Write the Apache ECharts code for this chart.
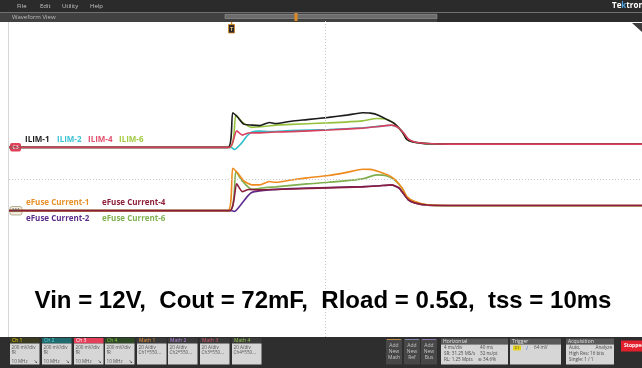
<!DOCTYPE html>
<html>
<head>
<meta charset="utf-8">
<script src="https://cdn.jsdelivr.net/npm/echarts/dist/echarts.min.js"></script>
<style>
  html, body { margin: 0; padding: 0; background: #ffffff; }
  #scope { width: 642px; height: 368px; }
</style>
</head>
<body>
<div id="scope"></div>
<script>
// Horizontal settings: 4 ms/div, 10 divisions, trigger at 34.6 % of record
const timeWindowMs = [-13.84, 26.16];
const timeCenterMs = 6.16;

// Vertical settings: ILIM channels 200 mV/div (offset +1 div), eFuse math 20 A/div (offset -1 div)
const ilimRangeMv = [-1200, 800];
const ilimCenterMv = -200;
const currentRangeA = [-80, 120];

// ILIM pin voltages [ms, mV]
const ilim1 = [[-13.84,0],[0,0],[0.3,219],[0.6,192],[1.0,147],[1.5,141],[2.0,138],[2.6,158],[3.0,151],[4.0,166],[5.0,176],[6.35,190],[7.5,204],[8.5,219],[9.0,217],[9.5,204],[10.1,173],[10.5,152],[11.0,99],[11.3,50],[11.7,34],[12.2,27],[12.8,23],[14,21],[26.16,21]];
const ilim2 = [[-13.84,0],[0.2,0],[0.4,-13],[0.8,21],[1.2,72],[1.5,97],[2.0,103],[2.6,100],[4.0,106],[6.35,113],[8.5,124],[9.5,133],[10.33,140],[10.8,121],[11.1,90],[11.4,51],[11.8,33],[12.6,24],[14,21],[26.16,21]];
const ilim4 = [[-13.84,0],[0.1,0],[0.55,105],[0.9,78],[1.3,91],[2.0,92],[3.0,97],[4.0,100],[6.35,110],[8.5,122],[9.5,132],[10.33,141],[10.8,122],[11.1,91],[11.4,52],[11.8,34],[12.6,25],[14,21],[26.16,21]];
const ilim6 = [[-13.84,0],[0.1,0],[0.5,204],[0.9,160],[1.5,127],[2.5,135],[3.0,141],[5.0,150],[6.35,155],[8.5,168],[9.4,183],[10.0,178],[10.5,152],[11.0,99],[11.3,50],[11.7,34],[12.2,27],[12.8,23],[14,21],[26.16,21]];

// eFuse currents [ms, A]
const efuse1 = [[-13.84,0],[0,0],[0.3,26.8],[0.6,23.9],[1.0,18.8],[1.5,16.3],[2.0,16.3],[2.6,18.4],[3.0,17.9],[4.0,19.4],[5.0,20.7],[6.35,22.2],[7.5,24.2],[8.5,26.2],[9.0,26.1],[9.5,24.8],[10.1,22.6],[10.5,20.1],[11.0,14.4],[11.3,8.9],[11.8,5.7],[12.6,3.6],[14,3.2],[26.16,3.2]];
const efuse2 = [[-13.84,0],[0.2,0],[0.4,-0.5],[0.8,3.6],[1.2,8.7],[1.5,11.5],[2.0,12.5],[2.6,13.1],[4.0,13.9],[6.35,14.6],[8.5,15.2],[9.5,15.7],[10.33,16.2],[10.8,14.3],[11.1,10.5],[11.4,6.7],[11.8,4.8],[12.6,3.4],[14,3.2],[26.16,3.2]];
const efuse4 = [[-13.84,0],[0.1,0],[0.55,16.9],[0.9,12.0],[1.3,13.4],[2.0,13.1],[3.0,13.4],[4.0,13.7],[6.35,14.4],[8.5,15.0],[9.5,15.6],[10.33,16.3],[10.8,14.4],[11.1,10.6],[11.4,6.8],[11.8,4.9],[12.6,3.5],[14,3.2],[26.16,3.2]];
const efuse6 = [[-13.84,0],[0.1,0],[0.5,24.7],[0.9,18.8],[1.5,13.5],[2.5,14.7],[3.0,15.0],[5.0,16.9],[6.35,17.9],[8.5,20.1],[9.4,22.6],[10.0,22.1],[10.5,19.6],[11.0,14.2],[11.3,8.8],[11.8,5.6],[12.6,3.5],[14,3.1],[26.16,3.1]];

const ilimNames = ['ILIM-2', 'ILIM-6', 'ILIM-1', 'ILIM-4'];
const efuseNames = ['eFuse Current-2', 'eFuse Current-6', 'eFuse Current-1', 'eFuse Current-4'];
const conditionText = 'Vin = 12V,  Cout = 72mF,  Rload = 0.5\u03A9,  tss = 10ms';

const colors = {
  ilim1: '#1c1c1c', ilim2: '#2fbccb', ilim4: '#d9405e', ilim6: '#95c23d',
  efuse1: '#ef8b1e', efuse2: '#5f2c8e', efuse4: '#8a1d3c', efuse6: '#7fae4c'
};

const chart = echarts.init(document.getElementById('scope'), null, { renderer: 'canvas' });

function trace(name, data, color, axis) {
  return {
    name: name, type: 'line', data: data, yAxisIndex: axis,
    showSymbol: false, smooth: 0.2, silent: true,
    lineStyle: { color: color, width: 1.6 }, itemStyle: { color: color }
  };
}

const uiFont = '"Open Sans", "DejaVu Sans", sans-serif';
const g = [];
function rect(x, y, w, h, fill, extra) {
  g.push(Object.assign({ type: 'rect', shape: { x: x, y: y, width: w, height: h }, style: { fill: fill }, silent: true }, extra || {}));
}
function txt(x, y, text, fill, size, opts) {
  opts = opts || {};
  g.push({ type: 'text', x: x, y: y, silent: true, z: 10,
    style: { text: text, fill: fill, fontSize: size, fontFamily: opts.family || uiFont,
      fontWeight: opts.weight || 'normal', textAlign: opts.align || 'left', textVerticalAlign: 'middle' } });
}

// menu bar
rect(0, 0, 642, 12, '#2b2b2b');
txt(17, 6.5, 'File', '#c4c4c4', 6);
txt(40, 6.5, 'Edit', '#c4c4c4', 6);
txt(62, 6.5, 'Utility', '#c4c4c4', 6);
txt(90, 6.5, 'Help', '#c4c4c4', 6);
g.push({ type: 'text', x: 612, y: 6, silent: true, z: 10,
  style: { text: '{a|Te}{b|k}{a|tronix}', textVerticalAlign: 'middle',
    rich: { a: { fill: '#ffffff', fontSize: 8, fontWeight: 'bold', fontFamily: uiFont },
            b: { fill: '#4fa3e0', fontSize: 8, fontWeight: 'bold', fontFamily: uiFont } } } });

// waveform view title bar with record overview
rect(0, 12, 642, 10, '#414141');
rect(0, 12, 642, 1, '#707070');
rect(437, 13, 205, 9, '#2d2d2d');
txt(12, 17.5, 'Waveform View', '#bdbdbd', 6);
rect(225, 14.5, 212, 4, '#6c6c6c', { style: { fill: '#6c6c6c', stroke: '#9a9a9a', lineWidth: 0.6 } });
rect(294.5, 13, 3, 8, '#e08a20');

// plot frame
rect(8, 22, 1, 315, '#d6d6d6');
// trigger position marker
rect(231, 22, 1.2, 3, '#e08a20');
rect(228.5, 24.5, 6, 8.5, '#2a2a2a', { style: { fill: '#2a2a2a', stroke: '#e08a20', lineWidth: 0.8 } });
txt(231.5, 29, 'T', '#f0c080', 5.5, { align: 'center', weight: 'bold' });
g.push({ type: 'polygon', silent: true, shape: { points: [[632, 23], [642, 23], [642, 32]] }, style: { fill: '#3d3d3d' } });

// channel reference markers
rect(10, 143, 11, 8.5, '#e0405a', { shape: { x: 10, y: 143, width: 11, height: 8.5, r: 2 } });
txt(15.5, 147.3, 'C3', '#ffffff', 5, { align: 'center' });
rect(10, 206.5, 12, 8.5, '#f2ecd8', { shape: { x: 10, y: 206.5, width: 12, height: 8.5, r: 2 }, style: { fill: '#f2ecd8', stroke: '#9a9478', lineWidth: 0.7 } });
txt(16, 210.8, 'M4', '#555555', 5, { align: 'center' });

// trace labels
const labelFont = '"Open Sans", "DejaVu Sans", sans-serif';
txt(25, 140, 'ILIM-1', '#1c1c1c', 8, { weight: 'bold', family: labelFont });
txt(57, 140, 'ILIM-2', '#3cc3d2', 8, { weight: 'bold', family: labelFont });
txt(88, 140, 'ILIM-4', '#e2506c', 8, { weight: 'bold', family: labelFont });
txt(119, 140, 'ILIM-6', '#a2cc44', 8, { weight: 'bold', family: labelFont });
txt(26, 203, 'eFuse Current-1', '#e8902a', 8, { weight: 'bold', family: labelFont });
txt(102, 203, 'eFuse Current-4', '#8e1f38', 8, { weight: 'bold', family: labelFont });
txt(26, 219, 'eFuse Current-2', '#5c2d8c', 8, { weight: 'bold', family: labelFont });
txt(102, 219, 'eFuse Current-6', '#80b252', 8, { weight: 'bold', family: labelFont });

// test conditions
txt(323, 301.5, conditionText, '#000000', 24, { align: 'center', weight: 'bold', family: '"Liberation Sans", Arial, sans-serif' });

// bottom status bar
rect(0, 337, 642, 31, '#2e2e2e');
const badgeXs = [10, 42, 74, 105, 137, 168, 200, 232];
const badgeW = 29.5;
const badgeTitles = ['Ch 1', 'Ch 2', 'Ch 3', 'Ch 4', 'Math 1', 'Math 2', 'Math 3', 'Math 4'];
const badgeHead = ['#3b3a22', '#1d6b6e', '#e4405a', '#2e4a24', '#3a3a3a', '#3a3a3a', '#3a3a3a', '#3a3a3a'];
const badgeInk = ['#e8d200', '#5fd4dc', '#ffffff', '#86c64a', '#ee9130', '#b487e6', '#d8566c', '#94c848'];
const badgeLine1 = ['200 mV/div', '200 mV/div', '200 mV/div', '200 mV/div', '20 A/div', '20 A/div', '20 A/div', '20 A/div'];
const badgeLine2 = ['fR', 'fR', 'fR', 'fR', 'Ch1*550...', 'Ch2*550...', 'Ch3*550...', 'Ch4*550...'];
badgeXs.forEach(function (x, i) {
  rect(x, 338, badgeW, 5.5, badgeHead[i]);
  rect(x, 343.5, badgeW, 21, '#d6d6d6');
  txt(x + 2, 340.8, badgeTitles[i], badgeInk[i], 5);
  txt(x + 1.5, 347.5, badgeLine1[i], '#555555', 4.6);
  txt(x + 1.5, 352.5, badgeLine2[i], '#555555', 4.6);
  if (i < 4) {
    txt(x + 1.5, 361.5, '10 MHz', '#555555', 4.6);
    txt(x + badgeW - 4, 361.5, '\u2198', '#444444', 5, { align: 'center' });
  }
});

// add-new buttons
const addXs = [386, 404, 421];
const addKinds = ['Math', 'Ref', 'Bus'];
const addStrip = ['#b78a4a', '#7f86a8', '#8c78ae'];
addXs.forEach(function (x, i) {
  rect(x, 339, 16, 25.5, '#474747');
  rect(x + 1, 339, 14, 1, addStrip[i]);
  txt(x + 8, 346, 'Add', '#c6c6c6', 5, { align: 'center' });
  txt(x + 8, 352, 'New', '#c6c6c6', 5, { align: 'center' });
  txt(x + 8, 358, addKinds[i], '#c6c6c6', 5, { align: 'center' });
});

// horizontal / trigger / acquisition panels
function panel(x, w, title) {
  rect(x, 338.5, w, 6, '#595959');
  rect(x, 344.5, w, 20, '#d6d6d6');
  txt(x + 2, 341.5, title, '#e4e4e4', 5);
}
panel(441, 67, 'Horizontal');
txt(444, 348, '4 ms/div', '#4a4a4a', 4.6);
txt(480, 348, '40 ms', '#4a4a4a', 4.6);
txt(444, 354, 'SR: 31.25 MS/s', '#4a4a4a', 4.6);
txt(480, 354, '32 ns/pt', '#4a4a4a', 4.6);
txt(444, 360, 'RL: 1.25 Mpts', '#4a4a4a', 4.6);
txt(478, 360, '\u2295 34.6%', '#4a4a4a', 4.6);

panel(510, 51, 'Trigger');
rect(513, 345.5, 8, 5, '#e6d21a');
txt(517, 348, 'C1', '#333333', 3.8, { align: 'center' });
txt(526, 348, '\u2215', '#3d6fc4', 5.5);
txt(534, 348, '64 mV', '#4a4a4a', 4.6);

panel(566, 48, 'Acquisition');
txt(569, 348, 'Auto,', '#4a4a4a', 4.6);
txt(612, 348, 'Analyze', '#4a4a4a', 4.6, { align: 'right' });
txt(569, 354, 'High Res: 16 bits', '#4a4a4a', 4.6);
txt(569, 360, 'Single: 1 / 1', '#4a4a4a', 4.6);

rect(621, 340.5, 24, 11, '#e4202e');
txt(624, 346, 'Stopped', '#ffffff', 5, { weight: 'bold' });

const option = {
  animation: false,
  backgroundColor: '#ffffff',
  grid: { left: 9, top: 21, width: 642, height: 316, containLabel: false },
  xAxis: { type: 'value', min: timeWindowMs[0], max: timeWindowMs[1], show: false },
  yAxis: [
    { type: 'value', min: ilimRangeMv[0], max: ilimRangeMv[1], show: false },
    { type: 'value', min: currentRangeA[0], max: currentRangeA[1], show: false }
  ],
  series: [
    Object.assign(trace(ilimNames[0], ilim2, colors.ilim2, 0), {
      markLine: {
        silent: true, symbol: 'none', label: { show: false },
        lineStyle: { color: '#c9c9c9', type: [1, 2], width: 1 },
        data: [{ xAxis: timeCenterMs }, { yAxis: ilimCenterMv }]
      }
    }),
    trace(ilimNames[1], ilim6, colors.ilim6, 0),
    trace(ilimNames[2], ilim1, colors.ilim1, 0),
    trace(ilimNames[3], ilim4, colors.ilim4, 0),
    trace(efuseNames[0], efuse2, colors.efuse2, 1),
    trace(efuseNames[1], efuse6, colors.efuse6, 1),
    trace(efuseNames[2], efuse1, colors.efuse1, 1),
    trace(efuseNames[3], efuse4, colors.efuse4, 1)
  ],
  graphic: { elements: g }
};
chart.setOption(option);
</script>
</body>
</html>
